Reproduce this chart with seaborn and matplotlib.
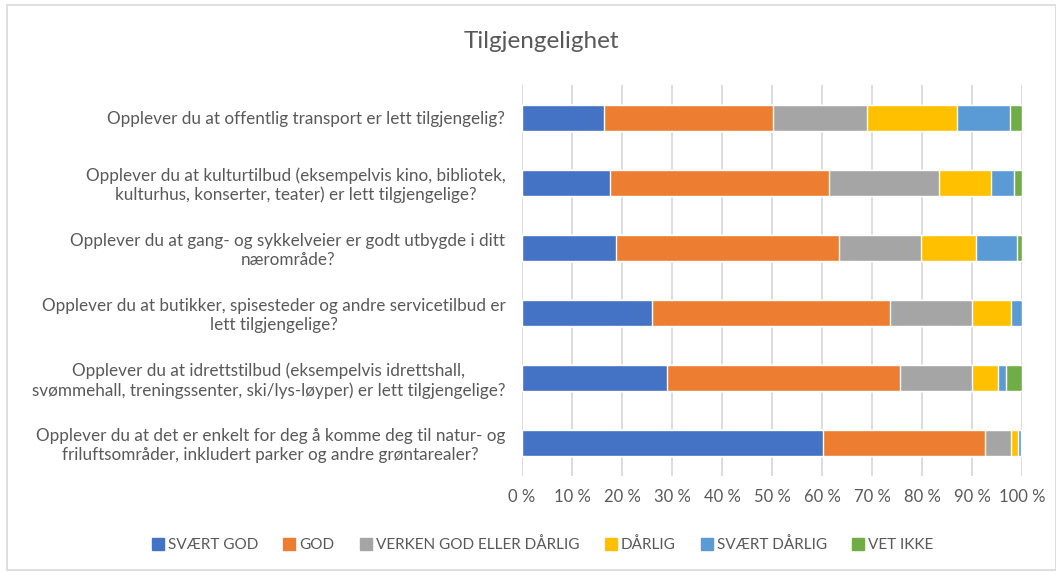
import numpy as np
import pandas as pd
import seaborn as sns
import matplotlib.pyplot as plt
from matplotlib.patches import Rectangle
from matplotlib.lines import Line2D
from matplotlib.ticker import FuncFormatter

questions = [
    "Opplever du at offentlig transport er lett tilgjengelig?",
    "Opplever du at kulturtilbud (eksempelvis kino, bibliotek,\nkulturhus, konserter, teater) er lett tilgjengelige?",
    "Opplever du at gang- og sykkelveier er godt utbygde i ditt\nnærområde?",
    "Opplever du at butikker, spisesteder og andre servicetilbud er\nlett tilgjengelige?",
    "Opplever du at idrettstilbud (eksempelvis idrettshall,\nsvømmehall, treningssenter, ski/lys-løyper) er lett tilgjengelige?",
    "Opplever du at det er enkelt for deg å komme deg til natur- og\nfriluftsområder, inkludert parker og andre grøntarealer?",
]
answers = ["SVÆRT GOD", "GOD", "VERKEN GOD ELLER DÅRLIG", "DÅRLIG", "SVÆRT DÅRLIG", "VET IKKE"]

svaert_god = [16.3, 17.5, 18.8, 25.9, 28.9, 60.2]
god = [33.8, 43.9, 44.5, 47.6, 46.7, 32.3]
verken = [18.9, 21.9, 16.4, 16.5, 14.4, 5.2]
darlig = [18.0, 10.4, 11.0, 7.7, 5.1, 1.4]
svaert_darlig = [10.6, 4.6, 8.2, 2.2, 1.6, 0.6]
vet_ikke = [2.4, 1.7, 1.1, 0.1, 3.3, 0.3]

colors = ["#4472C4", "#ED7D31", "#A5A5A5", "#FFC000", "#5B9BD5", "#70AD47"]

df = pd.DataFrame({"question": questions, "SVÆRT GOD": svaert_god, "GOD": god,
                   "VERKEN GOD ELLER DÅRLIG": verken, "DÅRLIG": darlig,
                   "SVÆRT DÅRLIG": svaert_darlig, "VET IKKE": vet_ikke})
# cumulative sums so the stacked bars can be drawn back to front
cum = df[answers].cumsum(axis=1)
cum = cum.div(cum["VET IKKE"], axis=0) * 100
cum["question"] = df["question"]

sns.set_style("white")
plt.rcParams['font.family'] = ['Lato', 'DejaVu Sans']
text_color = "#595959"

fig = plt.figure(figsize=(10.56, 5.72), dpi=100)
ax = fig.add_axes([522 / 1056, 1 - 475.5 / 572, 500 / 1056, 390.5 / 572])

for name, color in reversed(list(zip(answers, colors))):
    sns.barplot(data=cum, x=name, y="question", color=color, width=0.4,
                orient="h", ax=ax, saturation=1, zorder=3)

ax.set_xlim(0, 100)
ax.set_ylim(5.5, -0.5)
ax.set_xticks(np.arange(0, 101, 10))
ax.xaxis.set_major_formatter(FuncFormatter(lambda v, p: f"{int(v)} %"))
ax.grid(axis="x", color="#D9D9D9", linewidth=1.3, zorder=0)
ax.set_axisbelow(True)
sns.despine(ax=ax, left=True, bottom=True, top=True, right=True)
ax.tick_params(axis="x", length=0, labelsize=12, colors=text_color, pad=10)
ax.tick_params(axis="y", length=0, labelsize=12.3, colors=text_color, pad=12)
for lab in ax.get_yticklabels():
    lab.set_multialignment("center")
ax.set_xlabel("")
ax.set_ylabel("")

fig.text(0.513, 1 - 42 / 572, "Tilgjengelighet", ha="center", va="center",
         fontsize=17.5, color=text_color)

handles = [Line2D([], [], marker="s", linestyle="", markersize=8.5, color=c) for c in colors]
fig.legend(handles, answers, loc="center", bbox_to_anchor=(0.513, 1 - 545 / 572),
           ncol=6, frameon=False, fontsize=11, labelcolor=text_color,
           handletextpad=0.15, columnspacing=1.55, handlelength=1.0)

fig.patches.append(Rectangle((7 / 1056, 0.003), 1 - 7 / 1056, 1 - 5 / 572 - 0.003,
                             transform=fig.transFigure, fill=False,
                             edgecolor="#D9D9D9", linewidth=1.2))

fig.savefig("out.png", dpi=100)
